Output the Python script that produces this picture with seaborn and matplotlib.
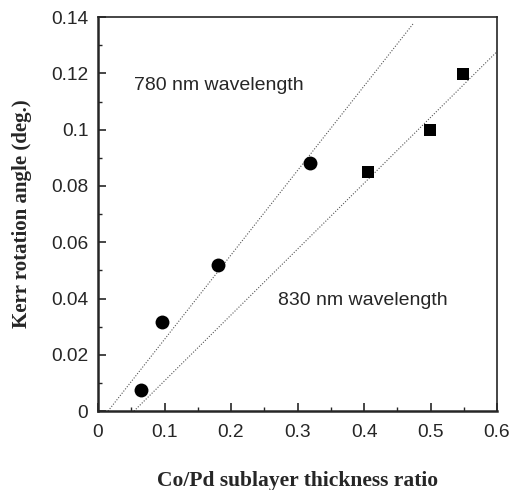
import matplotlib
matplotlib.use("Agg")
import matplotlib.pyplot as plt
import seaborn as sns
import pandas as pd
from matplotlib.ticker import MultipleLocator

# Data
x780 = [0.064, 0.096, 0.180, 0.319]
y780 = [0.0075, 0.0316, 0.0519, 0.0880]
x830 = [0.406, 0.499, 0.549]
y830 = [0.0849, 0.0998, 0.1197]
fit780_x = [0.015, 0.475]
fit780_y = [0.0, 0.138]
fit830_x = [0.054, 0.601]
fit830_y = [0.0, 0.128]

sns.set_style("ticks")
plt.rcParams['font.family'] = ['Liberation Sans', 'DejaVu Sans']

fig = plt.figure(figsize=(5.14, 4.90), dpi=100)
ax = fig.add_axes([0.1907, 0.161, 0.967 - 0.1907, 0.965 - 0.161])

sns.lineplot(x=fit780_x, y=fit780_y, ax=ax, color="#555555", lw=0.8,
             linestyle=(0, (1, 1.5)))
sns.lineplot(x=fit830_x, y=fit830_y, ax=ax, color="#555555", lw=0.8,
             linestyle=(0, (1, 1.5)))
sns.scatterplot(x=x780, y=y780, ax=ax, marker="o", s=100, color="black",
                edgecolor="black", linewidth=0, zorder=3)
sns.scatterplot(x=x830, y=y830, ax=ax, marker="s", s=85, color="black",
                edgecolor="black", linewidth=0, zorder=3)

ax.set_xlim(0, 0.6)
ax.set_ylim(0, 0.14)
ax.xaxis.set_minor_locator(MultipleLocator(0.05))
ax.yaxis.set_minor_locator(MultipleLocator(0.01))
ax.set_xticks([0, 0.1, 0.2, 0.3, 0.4, 0.5, 0.6])
ax.set_xticklabels(["0", "0.1", "0.2", "0.3", "0.4", "0.5", "0.6"])
ax.set_yticks([0, 0.02, 0.04, 0.06, 0.08, 0.1, 0.12, 0.14])
ax.set_yticklabels(["0", "0.02", "0.04", "0.06", "0.08", "0.1", "0.12", "0.14"])
ax.tick_params(which="major", direction="in", length=6, width=1.2,
               labelsize=13.8, top=False, right=False)
ax.tick_params(axis="x", which="major", pad=9)
ax.tick_params(axis="y", which="major", pad=7)
ax.tick_params(which="minor", direction="in", length=3, width=1.0,
               top=False, right=False)
for side in ["left", "bottom"]:
    ax.spines[side].set_linewidth(1.8)
for side in ["top", "right"]:
    ax.spines[side].set_linewidth(1.2)

ax.set_xlabel("Co/Pd sublayer thickness ratio", fontsize=15.5,
              fontweight="bold", family=["Liberation Serif"], labelpad=22)
ax.set_ylabel("Kerr rotation angle (deg.)", fontsize=15,
              fontweight="bold", family=["Liberation Serif"], labelpad=14)

ax.text(0.054, 0.1158, "780 nm wavelength", fontsize=14, va="center", ha="left")
ax.text(0.271, 0.0394, "830 nm wavelength", fontsize=14, va="center", ha="left")

fig.savefig("out.png", dpi=100)
